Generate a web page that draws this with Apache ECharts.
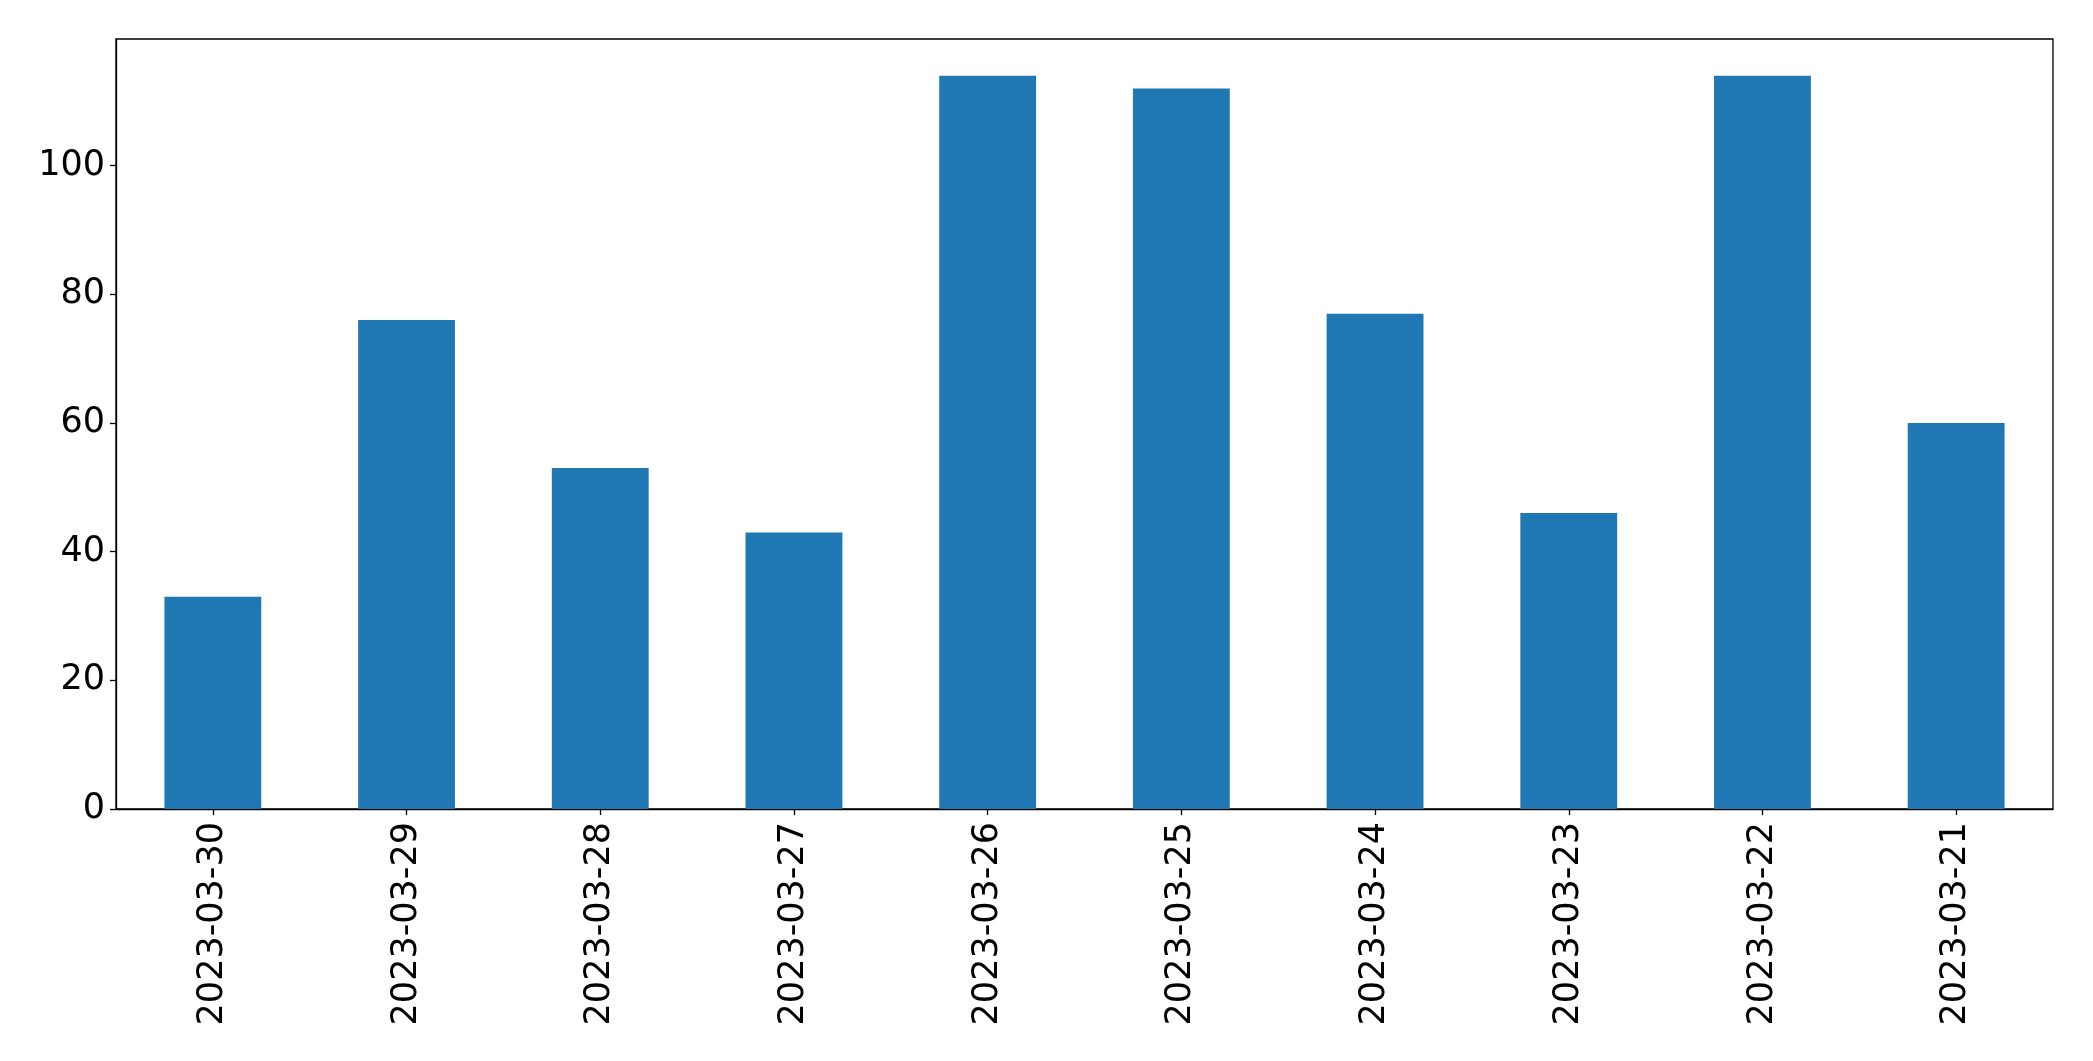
<!DOCTYPE html>
<html><head><meta charset="utf-8">
<script src="https://cdn.jsdelivr.net/npm/echarts@6/dist/echarts.min.js"></script>
<style>html,body{margin:0;padding:0;background:#fff}#c{width:2093px;height:1061px}</style>
</head><body><div id="c"></div>
<script>
var categories = ["2023-03-30","2023-03-29","2023-03-28","2023-03-27","2023-03-26","2023-03-25","2023-03-24","2023-03-23","2023-03-22","2023-03-21"];
var values = [33, 76, 53, 43, 114, 112, 77, 46, 114, 60];
var yTicks = [0, 20, 40, 60, 80, 100];

var chart = echarts.init(document.getElementById('c'), null, {renderer: 'canvas'});
var font = '"DejaVu Sans", sans-serif';
chart.setOption({
  animation: false,
  backgroundColor: '#fff',
  grid: {left: 116, right: 40, top: 39, bottom: 252, show: true, borderColor: '#000', borderWidth: 1.3, backgroundColor: 'transparent'},
  xAxis: {
    type: 'category', data: categories,
    axisLine: {show: true, lineStyle: {color: '#000', width: 1.3}},
    axisTick: {show: true, alignWithLabel: true, length: 6, lineStyle: {color: '#000', width: 1.3}},
    axisLabel: {rotate: 90, color: '#000', fontSize: 35, fontFamily: font, margin: 13, interval: 0},
    splitLine: {show: false}
  },
  yAxis: {
    type: 'value', min: 0, max: 119.7, interval: 20,
    axisLine: {show: true, lineStyle: {color: '#000', width: 1.3}},
    axisTick: {show: true, length: 6, customValues: yTicks, lineStyle: {color: '#000', width: 1.3}},
    axisLabel: {color: '#000', fontSize: 35, fontFamily: font, margin: 11, customValues: yTicks, padding: [7, 0, 0, 0]},
    splitLine: {show: false}
  },
  series: [{
    type: 'bar', data: values, barWidth: '50%',
    itemStyle: {color: '#1f77b4'}
  }]
});
</script></body></html>
